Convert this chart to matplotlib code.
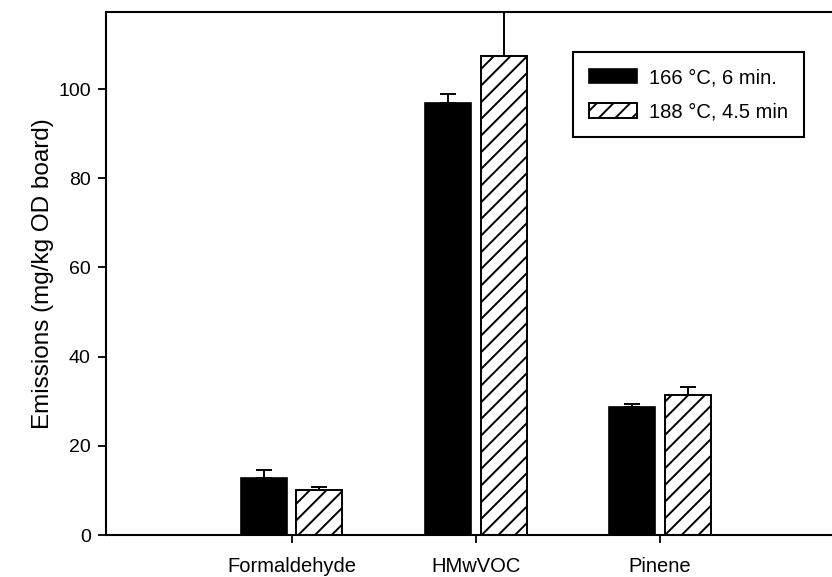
import numpy as np
import matplotlib
matplotlib.use("Agg")
import matplotlib.pyplot as plt

plt.rcParams['font.family'] = ['Liberation Sans', 'DejaVu Sans']
plt.rcParams['hatch.linewidth'] = 1.4

# data
categories = ['Formaldehyde', 'HMwVOC', 'Pinene']
labels = ['166 \u00b0C, 6 min.', '188 \u00b0C, 4.5 min']
emis_166 = [12.7, 96.8, 28.8]
err_166 = [1.9, 2.2, 0.6]
emis_188 = [10.1, 107.5, 31.5]
err_188 = [0.6, 20.0, 1.7]

x = np.arange(1, len(categories) + 1)
w = 0.25
off = 0.15

fig = plt.figure(figsize=(8.32, 5.77), dpi=100)
ax = fig.add_axes([106 / 832, 1 - 535 / 577, 1 - 106 / 832, (535 - 12) / 577])

ax.bar(x - off, emis_166, w, color='black', edgecolor='black', linewidth=1.2,
       label=labels[0], zorder=2)
ax.bar(x + off, emis_188, w, color='white', edgecolor='black', linewidth=1.4,
       hatch='//', label=labels[1], zorder=2)

ekw = dict(fmt='none', ecolor='black', elinewidth=1.4, capsize=6, capthick=1.4, zorder=3)
ax.errorbar(x - off, emis_166, yerr=[np.zeros(3), err_166], **ekw)
ax.errorbar(x + off, emis_188, yerr=[np.zeros(3), err_188], **ekw)

ax.set_xlim(-0.01, 3.935)
ax.set_ylim(0, 117.3)
ax.set_xticks(x)
ax.set_xticklabels(categories)
ax.set_yticks([0, 20, 40, 60, 80, 100])
ax.set_ylabel('Emissions (mg/kg OD board)', fontsize=17.5, labelpad=3)

ax.tick_params(axis='both', direction='out', length=6, width=1.3, labelsize=14)
ax.tick_params(axis='x', pad=10, labelsize=14.5)
ax.tick_params(axis='y', pad=5)

for s in ['left', 'top', 'bottom']:
    ax.spines[s].set_linewidth(1.5)
ax.spines['right'].set_visible(False)

leg = ax.legend(loc='upper left', bbox_to_anchor=((573 - 106) / 726, (535 - 52) / 523),
                fontsize=14.5, frameon=True, fancybox=False, framealpha=1,
                edgecolor='black', borderpad=0.8, handlelength=2.4, handleheight=0.75,
                handletextpad=0.55, labelspacing=0.75, borderaxespad=0)
leg.get_frame().set_linewidth(1.5)

fig.savefig('out.png', dpi=100)
